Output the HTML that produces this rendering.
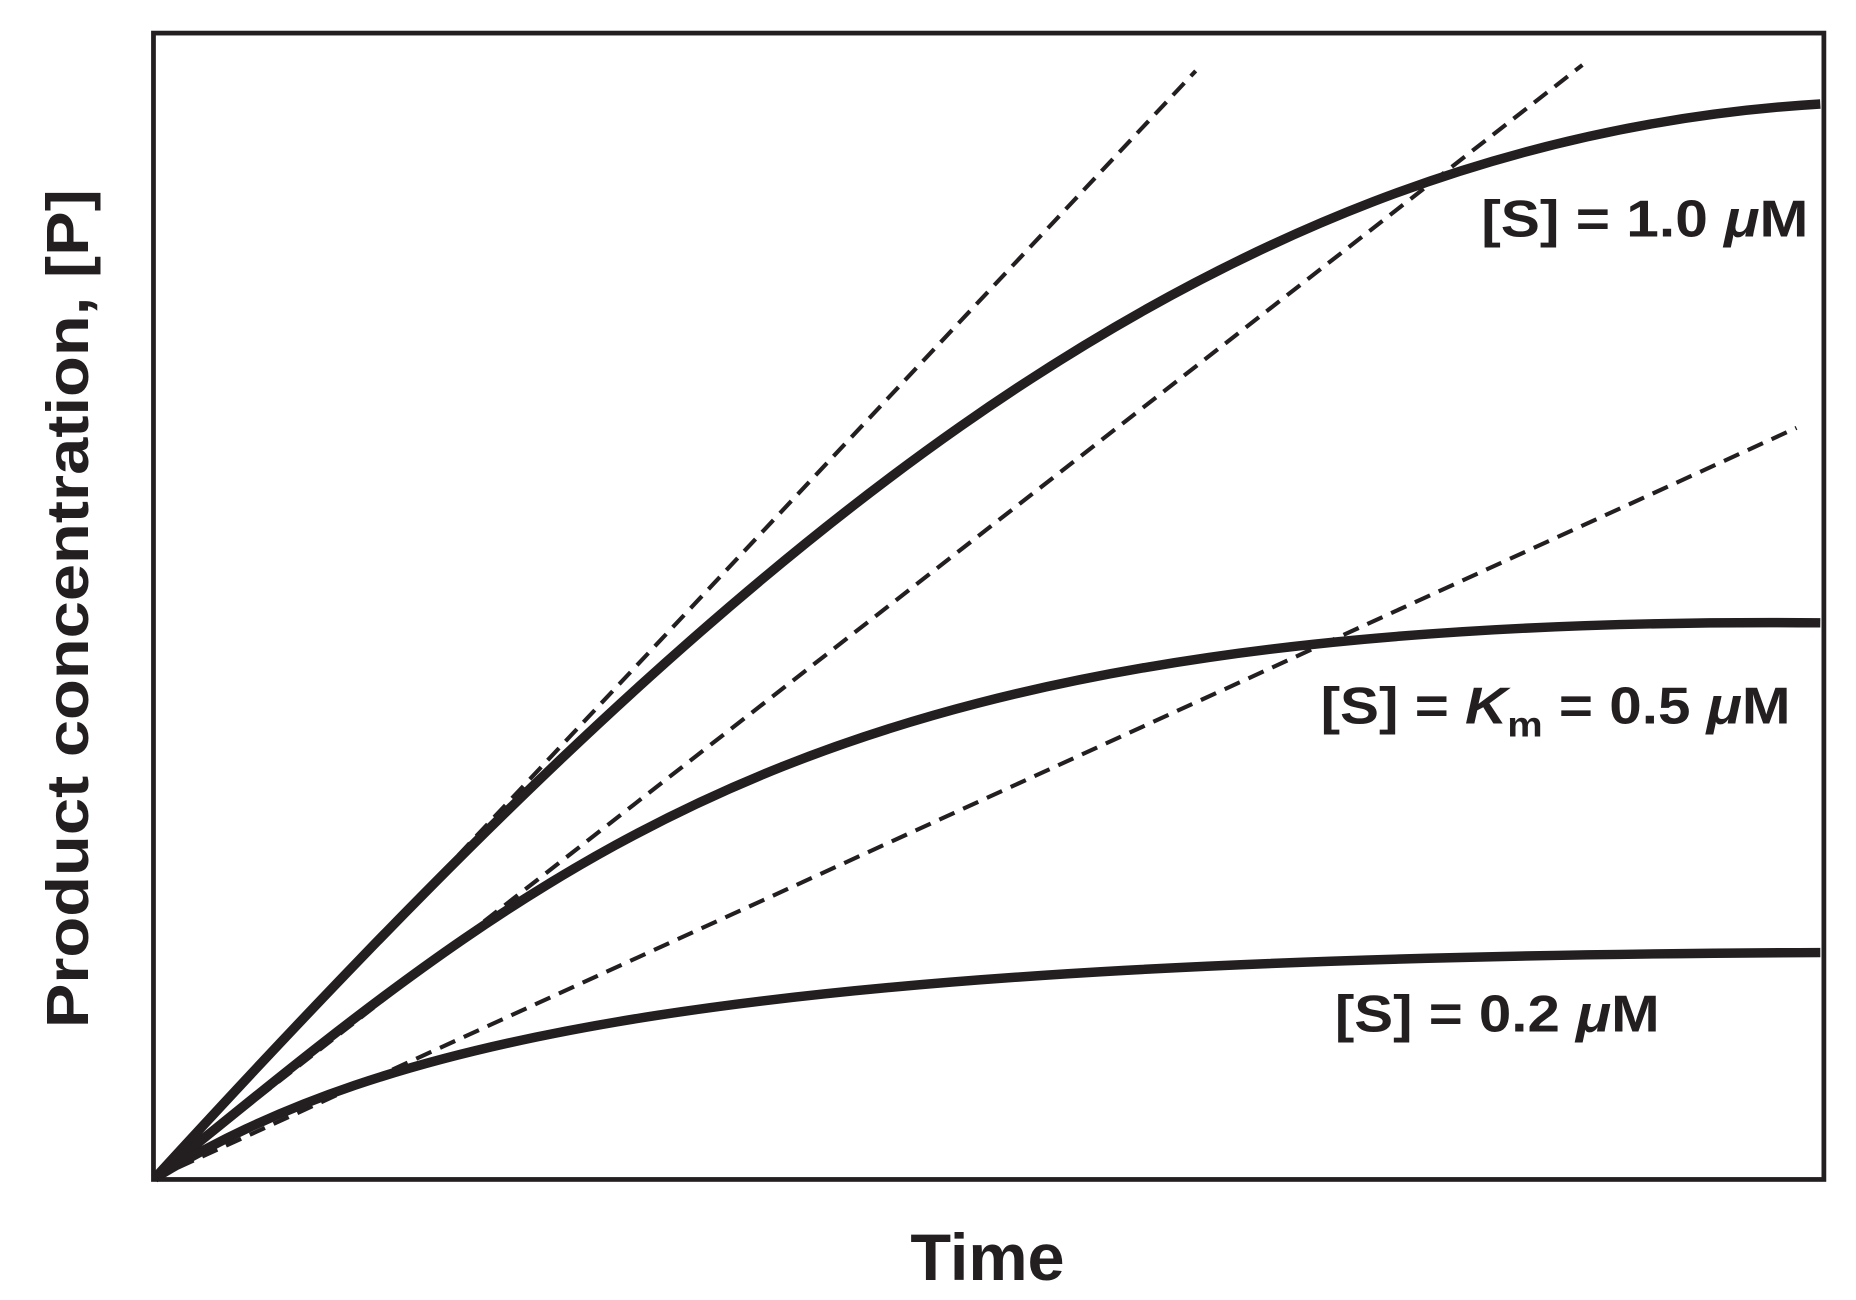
<!DOCTYPE html>
<html><head><style>html,body{margin:0;padding:0;background:#fff}svg{display:block}</style></head>
<body>
<svg width="1856" height="1300" viewBox="0 0 1560 1100" preserveAspectRatio="none" xmlns="http://www.w3.org/2000/svg">
<rect x="0" y="0" width="1560" height="1100" fill="#fff"/>
<g fill="none" stroke="#231f20">
<line x1="130" y1="997" x2="1005" y2="60" stroke-width="3.5" stroke-dasharray="14 8"/>
<line x1="130" y1="997" x2="1330" y2="55" stroke-width="3.5" stroke-dasharray="14 8"/>
<line x1="130" y1="997" x2="1510" y2="362" stroke-width="3.5" stroke-dasharray="14 8"/>
<path d="M130,997 C600,480 1000,120 1530,88" stroke-width="8"/>
<path d="M130,997 C480,710 700,520 1530,527" stroke-width="8"/>
<path d="M130,997 C320,880 600,810 1530,806" stroke-width="8"/>
<rect x="129" y="28" width="1404" height="970" stroke-width="4"/>
</g>
<g font-family="Liberation Sans, sans-serif" font-weight="bold" fill="#231f20">
<text x="1245" y="200" font-size="44" textLength="275" lengthAdjust="spacingAndGlyphs">[S] = 1.0 <tspan font-style="italic">μ</tspan>M</text>
<text x="1110" y="612" font-size="44" textLength="395" lengthAdjust="spacingAndGlyphs">[S] = <tspan font-style="italic">K</tspan><tspan font-size="30" dy="11">m</tspan><tspan dy="-11"> = 0.5 </tspan><tspan font-style="italic">μ</tspan>M</text>
<text x="1122" y="873" font-size="44" textLength="273" lengthAdjust="spacingAndGlyphs">[S] = 0.2 <tspan font-style="italic">μ</tspan>M</text>
<text x="830" y="1083" font-size="56" text-anchor="middle">Time</text>
<text transform="translate(74,515) rotate(-90)" font-size="50" text-anchor="middle" textLength="710" lengthAdjust="spacingAndGlyphs">Product concentration, [P]</text>
</g>
</svg>
</body></html>
